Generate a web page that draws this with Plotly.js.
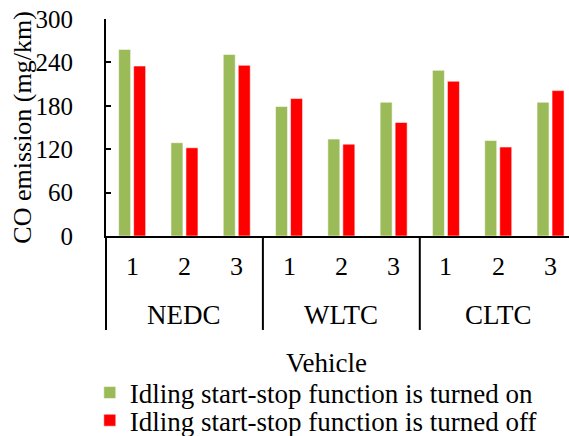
<!DOCTYPE html>
<html>
<head>
<meta charset="utf-8">
<script src="https://cdn.plot.ly/plotly-3.0.1.min.js"></script>
<style>
  html, body { margin: 0; padding: 0; background: #fff; }
  #chart { width: 569px; height: 436px; }
</style>
</head>
<body>
<div id="chart"></div>
<script>
// driving cycles and vehicles
const cycles = ['NEDC', 'WLTC', 'CLTC'];
const vehicles = ['1', '2', '3'];

// CO emission (mg/km)
const startStopOn = [258, 129, 251, 179, 134, 185, 229, 132, 185];
const startStopOff = [235, 122, 236, 190, 127, 157, 214, 123, 201];

const seriesNames = [
    'Idling start-stop function is turned on',
    'Idling start-stop function is turned off'
];

const serif = 'Liberation Serif, Times New Roman, serif';
const xRange = [-0.5, 8.353];

// one x position per (cycle, vehicle) pair
const xPos = [];
const vehLabels = [];
cycles.forEach((c, ci) => {
    vehicles.forEach((v, vi) => {
        xPos.push(ci * vehicles.length + vi);
        vehLabels.push(v);
    });
});

const data = [
    {
        x: xPos,
        y: startStopOn,
        type: 'bar',
        name: seriesNames[0],
        marker: { color: '#9BBB59', line: { color: 'rgba(255,255,255,0.7)', width: 0.8 } },
        legend: 'legend'
    },
    {
        x: xPos,
        y: startStopOff,
        type: 'bar',
        name: seriesNames[1],
        marker: { color: '#FF0000', line: { color: 'rgba(255,255,255,0.7)', width: 0.8 } },
        legend: 'legend2'
    }
];

// labels under the axis: vehicle numbers, then cycle names
const annotations = [];
xPos.forEach((x, i) => {
    annotations.push({
        x: x, xref: 'x', y: -0.1415, yref: 'paper',
        text: vehLabels[i], showarrow: false,
        xanchor: 'center', yanchor: 'middle',
        font: { family: serif, size: 26, color: '#000' }
    });
});
cycles.forEach((c, ci) => {
    annotations.push({
        x: ci * vehicles.length + (vehicles.length - 1) / 2, xref: 'x',
        y: -0.364, yref: 'paper',
        text: c, showarrow: false,
        xanchor: 'center', yanchor: 'middle',
        font: { family: serif, size: 27, color: '#000' }
    });
});
annotations.push({
    x: 0.477, xref: 'paper', y: -0.585, yref: 'paper',
    text: 'Vehicle', showarrow: false,
    xanchor: 'center', yanchor: 'middle',
    font: { family: serif, size: 27, color: '#000' }
});
// y axis title
annotations.push({
    x: -0.181, xref: 'paper', y: 0.5, yref: 'paper',
    text: 'CO emission (mg/km)', showarrow: false, textangle: -90,
    xanchor: 'center', yanchor: 'middle',
    font: { family: serif, size: 26, color: '#000' }
});

// group dividers, placed in paper units from the x range
const toPaper = v => (v - xRange[0]) / (xRange[1] - xRange[0]);
const shapes = [];
for (let ci = 0; ci < cycles.length; ci++) {
    const b = ci * vehicles.length - 0.5;
    shapes.push({
        type: 'line', xref: 'paper', yref: 'paper',
        x0: toPaper(b), x1: toPaper(b), y0: 0, y1: -0.433,
        line: { color: '#000', width: 2 }
    });
}

const layout = {
    width: 569,
    height: 436,
    margin: { t: 19, b: 200, l: 106, r: 0, pad: 0, autoexpand: false },
    paper_bgcolor: '#fff',
    plot_bgcolor: '#fff',
    font: { family: serif, color: '#000', size: 25 },
    barmode: 'group',
    bargap: 0.426,
    bargroupgap: 0.2,
    showlegend: true,
    xaxis: {
        range: xRange,
        showticklabels: false,
        ticks: '',
        showgrid: false,
        zeroline: false,
        showline: true,
        linecolor: '#000',
        linewidth: 2,
        fixedrange: true
    },
    yaxis: {
        range: [0, 300],
        dtick: 60,
        tick0: 0,
        ticks: 'inside',
        ticklen: 5,
        tickwidth: 2,
        tickcolor: '#000',
        ticklabelstandoff: 26,
        showgrid: false,
        zeroline: false,
        showline: true,
        linecolor: '#000',
        linewidth: 2,
        tickfont: { family: serif, size: 25, color: '#000' },
        fixedrange: true
    },
    legend: {
        x: -0.035, xanchor: 'left',
        y: -0.7235, yanchor: 'middle',
        bgcolor: 'rgba(0,0,0,0)',
        font: { family: serif, size: 27, color: '#000' }
    },
    legend2: {
        x: -0.035, xanchor: 'left',
        y: -0.851, yanchor: 'middle',
        bgcolor: 'rgba(0,0,0,0)',
        font: { family: serif, size: 27, color: '#000' }
    },
    annotations: annotations,
    shapes: shapes
};

Plotly.newPlot('chart', data, layout, { displayModeBar: false, staticPlot: true });
</script>
</body>
</html>
